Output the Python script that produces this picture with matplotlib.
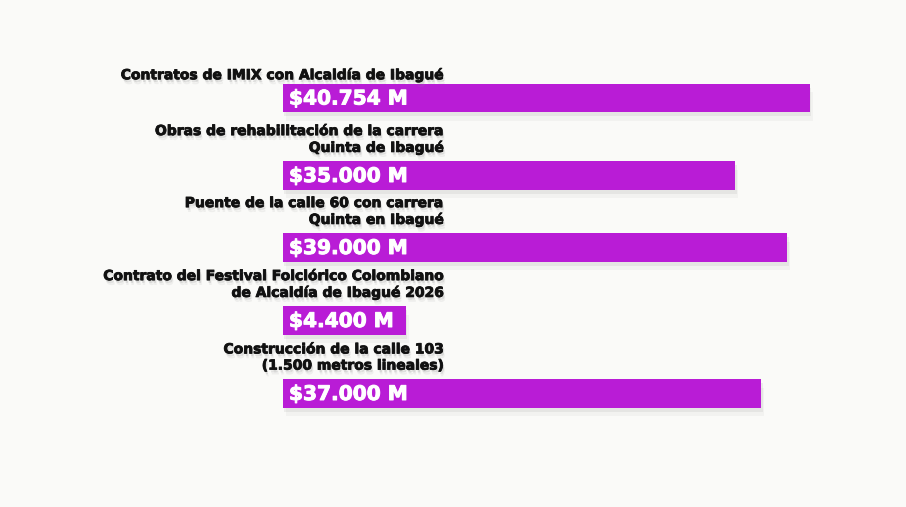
import matplotlib
matplotlib.use("Agg")
import matplotlib.pyplot as plt
import matplotlib.patheffects as pe
import matplotlib.transforms as mtransforms

# datos
etiquetas = [
    "Contratos de IMIX con Alcaldía de Ibagué",
    "Obras de rehabilitación de la carrera\nQuinta de Ibagué",
    "Puente de la calle 60 con carrera\nQuinta en Ibagué",
    "Contrato del Festival Folclórico Colombiano\nde Alcaldía de Ibagué 2026",
    "Construcción de la calle 103\n(1.500 metros lineales)",
]
valores = [40754, 35000, 39000, 4400, 37000]  # millones de pesos
textos_valor = ["$40.754 M", "$35.000 M", "$39.000 M", "$4.400 M", "$37.000 M"]

fondo = "#fafaf8"
morado = "#b91cd6"

# layout (pixeles desde arriba): primera linea de cada etiqueta
y_etiqueta = [75, 131, 203, 276, 349]
paso_linea = 17
alto_barra = 28.5

fig = plt.figure(figsize=(9.06, 5.07), dpi=100, facecolor=fondo)
# eje: x en millones, y en pixeles de la figura (de arriba hacia abajo)
ax = fig.add_axes([283 / 906, 0, 530 / 906, 1])
ax.set_facecolor(fondo)
ax.set_xlim(0, 41000)
ax.set_ylim(507, 0)
ax.axis("off")
x_max = ax.get_xlim()[1]

# ancho minimo para que quepa el texto del valor
ancho_min = 0.232 * x_max

sombra_barra = [
    pe.SimplePatchShadow(offset=(1, -3), shadow_rgbFace="0.55", alpha=0.12),
    pe.SimplePatchShadow(offset=(2, -6), shadow_rgbFace="0.6", alpha=0.08),
    pe.Normal(),
]
sombra_texto = [
    pe.SimplePatchShadow(offset=(1, -2), shadow_rgbFace="0.5", alpha=0.2),
    pe.SimplePatchShadow(offset=(1.5, -3.5), shadow_rgbFace="0.6", alpha=0.12),
    pe.withStroke(linewidth=0.6, foreground="#111111"),
]
grueso_blanco = [pe.withStroke(linewidth=0.7, foreground="white")]

trans_lbl = mtransforms.blended_transform_factory(fig.transFigure, ax.transData)

for lbl, v, tv, y in zip(etiquetas, valores, textos_valor, y_etiqueta):
    n = lbl.count("\n") + 1
    ultima = y + (n - 1) * paso_linea
    centro = ultima + (23 if n == 1 else 27.5)
    ax.text(444 / 906, (y + ultima) / 2, lbl, transform=trans_lbl,
            ha="right", va="center", fontsize=10, fontweight="bold",
            color="#111111", linespacing=1.2, path_effects=sombra_texto)
    b = ax.barh(centro, max(v, ancho_min), height=alto_barra, color=morado,
                edgecolor="none")
    for r in b:
        r.set_path_effects(sombra_barra)
    ax.text(x_max * 6 / 530, centro + 1, tv, ha="left", va="center",
            fontsize=14.5, fontweight="bold", color="white",
            path_effects=grueso_blanco)

fig.savefig("out.png", dpi=100, facecolor=fondo)
